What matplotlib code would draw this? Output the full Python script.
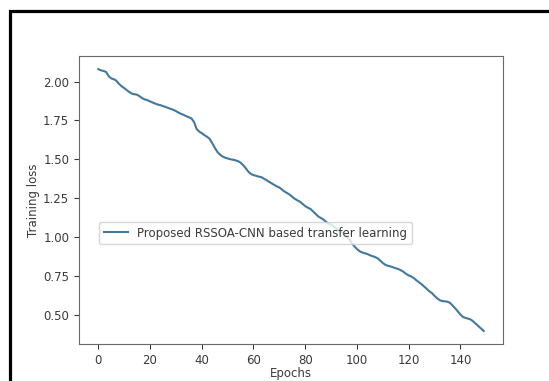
import matplotlib
matplotlib.use("Agg")
import matplotlib.pyplot as plt
from matplotlib.patches import Rectangle

# training loss per epoch
loss = [
    2.080, 2.072, 2.068, 2.062, 2.035, 2.020, 2.015, 2.005, 1.985, 1.970,
    1.958, 1.945, 1.932, 1.922, 1.918, 1.915, 1.905, 1.892, 1.885, 1.880,
    1.872, 1.865, 1.858, 1.852, 1.848, 1.842, 1.836, 1.830, 1.824, 1.818,
    1.810, 1.800, 1.792, 1.785, 1.777, 1.770, 1.763, 1.740, 1.695, 1.678,
    1.668, 1.655, 1.645, 1.632, 1.605, 1.575, 1.548, 1.530, 1.518, 1.510,
    1.505, 1.500, 1.497, 1.493, 1.488, 1.478, 1.462, 1.442, 1.420, 1.405,
    1.398, 1.393, 1.388, 1.385, 1.375, 1.365, 1.355, 1.345, 1.335, 1.325,
    1.318, 1.305, 1.292, 1.282, 1.272, 1.258, 1.245, 1.235, 1.226, 1.212,
    1.198, 1.188, 1.180, 1.165, 1.148, 1.132, 1.122, 1.112, 1.098, 1.085,
    1.078, 1.068, 1.055, 1.042, 1.030, 1.020, 1.005, 0.985, 0.960, 0.940,
    0.922, 0.908, 0.900, 0.895, 0.890, 0.882, 0.876, 0.870, 0.862, 0.848,
    0.832, 0.820, 0.814, 0.810, 0.804, 0.798, 0.793, 0.785, 0.775, 0.762,
    0.752, 0.745, 0.735, 0.720, 0.708, 0.695, 0.680, 0.665, 0.650, 0.638,
    0.620, 0.605, 0.593, 0.587, 0.585, 0.583, 0.575, 0.558, 0.540, 0.520,
    0.500, 0.485, 0.478, 0.474, 0.468, 0.455, 0.440, 0.425, 0.410, 0.395,
]
epochs = list(range(len(loss)))
label = "Proposed RSSOA-CNN based transfer learning"

txt = "#3a3a3a"
plt.rcParams["font.size"] = 8.5

fig = plt.figure(figsize=(5.49, 3.81), dpi=100)
ax = fig.add_axes([79 / 549, 1 - 344 / 381, 424 / 549, 288 / 381])

ax.plot(epochs, loss, color="#44789a", lw=1.5, label=label)

ax.set_xlabel("Epochs", color=txt, labelpad=0.5)
ax.set_ylabel("Training loss", color=txt, labelpad=2)
ax.tick_params(colors=txt, labelcolor=txt, length=3.5)
for s in ax.spines.values():
    s.set_color("#6a6a6a")

ax.legend(loc="center left", bbox_to_anchor=(0.048, 0.385), borderaxespad=0,
          labelcolor=txt, fancybox=True)

# black frame from the screenshot (left and top edges)
fig.patches.append(Rectangle((10 / 549, -0.2), 1.2, 1.2 - 11 / 381,
                             transform=fig.transFigure, fill=False,
                             edgecolor="black", lw=2.3, clip_on=False))

fig.savefig("out.png", dpi=100)
